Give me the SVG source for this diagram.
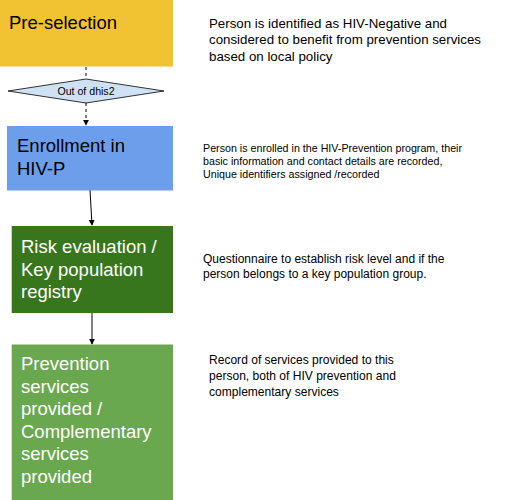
<svg xmlns="http://www.w3.org/2000/svg" width="507" height="500" viewBox="0 0 507 500">
<style>
text{font-family:"Liberation Sans",Arial,sans-serif;}
.big{font-size:18.5px;}
.w{fill:#ffffff;}
.k{fill:#000000;}
.conn{stroke:#000;stroke-width:1;fill:none;}
.dash{stroke-dasharray:3,3;}
</style>
<defs>
<marker id="ah" viewBox="0 0 8 8" refX="7" refY="4" markerWidth="6" markerHeight="6" orient="auto" markerUnits="userSpaceOnUse">
<path d="M0,0 L8,4 L0,8 z" fill="#000"/>
</marker>
</defs>
<rect width="507" height="500" fill="#ffffff"/>
<g id="connectors">
<line class="conn dash" x1="86" y1="67" x2="86" y2="79"/>
<line class="conn dash" x1="86" y1="103" x2="86" y2="125" marker-end="url(#ah)"/>
<line class="conn" x1="90" y1="190" x2="92" y2="225" marker-end="url(#ah)"/>
<line class="conn" x1="92" y1="313" x2="92" y2="344" marker-end="url(#ah)"/>
</g>
<g id="preselection">
<rect x="0" y="0" width="173" height="66.5" fill="#f1c232"/>
<text class="big k" x="9" y="28.5">Pre-selection</text>
</g>
<g id="out-of-dhis2">
<polygon points="8,91 86,79 164,91 86,103" fill="#cfe2f3" stroke="#000" stroke-width="0.8"/>
<text x="86" y="95" font-size="10.6" text-anchor="middle" class="k">Out of dhis2</text>
</g>
<g id="enrollment">
<rect x="7" y="126" width="166" height="64.5" fill="#6d9eeb"/>
<text class="big k" x="17" y="152">Enrollment in</text>
<text class="big k" x="17" y="175">HIV-P</text>
</g>
<g id="risk">
<rect x="11.7" y="226" width="161.3" height="87" fill="#38761d"/>
<text class="big w" x="21" y="253">Risk evaluation /</text>
<text class="big w" x="21" y="275.5">Key population</text>
<text class="big w" x="21" y="298">registry</text>
</g>
<g id="prevention">
<rect x="11.7" y="344.5" width="161.3" height="155.5" fill="#6aa84f"/>
<text class="big w" x="21" y="370">Prevention</text>
<text class="big w" x="21" y="392.5">services</text>
<text class="big w" x="21" y="415">provided /</text>
<text class="big w" x="21" y="437.5">Complementary</text>
<text class="big w" x="21" y="460">services</text>
<text class="big w" x="21" y="482.5">provided</text>
</g>
<g id="desc-preselection" font-size="13.3" class="k">
<text x="209" y="27.5">Person is identified as HIV-Negative and</text>
<text x="209" y="44">considered to benefit from prevention services</text>
<text x="209" y="60.5">based on local policy</text>
</g>
<g id="desc-enrollment" font-size="10.7" class="k">
<text x="203" y="152">Person is enrolled in the HIV-Prevention program, their</text>
<text x="203" y="165">basic information and contact details are recorded,</text>
<text x="203" y="178">Unique identifiers assigned /recorded</text>
</g>
<g id="desc-risk" font-size="12" class="k">
<text x="203" y="262.5">Questionnaire to establish risk level and if the</text>
<text x="203" y="277.5">person belongs to a key population group.</text>
</g>
<g id="desc-prevention" font-size="12.05" class="k">
<text x="209" y="364">Record of services provided to this</text>
<text x="209" y="380">person, both of HIV prevention and</text>
<text x="209" y="395.5">complementary services</text>
</g>
</svg>
